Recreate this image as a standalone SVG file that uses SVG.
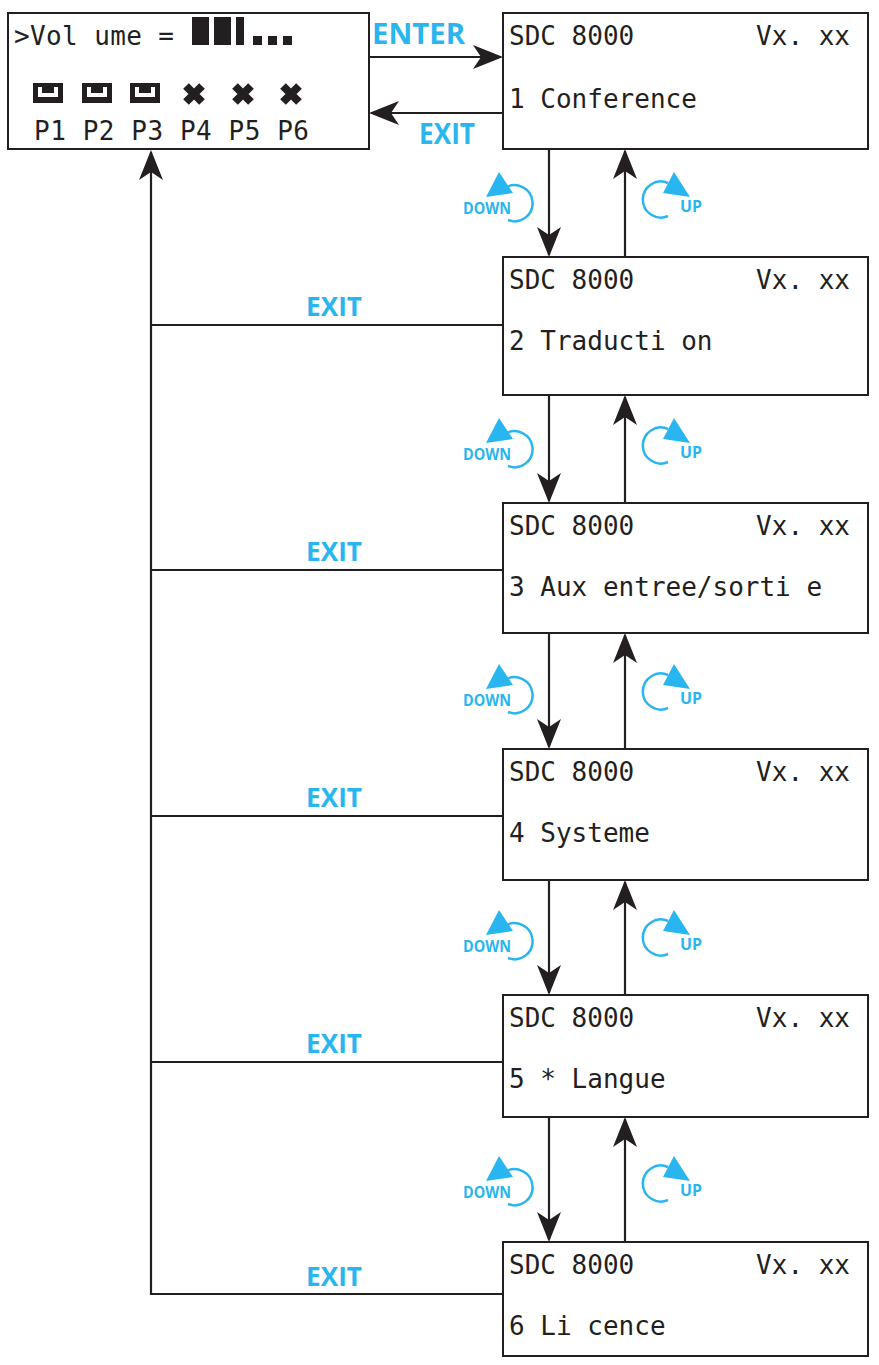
<svg xmlns="http://www.w3.org/2000/svg" width="879" height="1365" viewBox="0 0 879 1365">
<style>
.box{fill:#fff;stroke:#231f20;stroke-width:2}
.lcd{font-family:"DejaVu Sans Mono",monospace;font-size:26px;fill:#231f20}
.ln{stroke:#231f20;stroke-width:2.2;fill:none}
.bl{font-family:"Open Sans","DejaVu Sans",sans-serif;font-weight:bold;fill:#29b6f0}
.ic{stroke:#29b6f0;stroke-width:2.5;fill:none}
</style>
<defs>
<marker id="ah" viewBox="0 0 30 24" refX="28" refY="12" markerWidth="30" markerHeight="24" markerUnits="userSpaceOnUse" orient="auto"><path d="M0,0 L30,12 L0,24 L8,12 Z" fill="#231f20"/></marker>
<g id="down"><path class="ic" d="M505,188 A18,18 0 1 1 508,220"/><path d="M486,197 L499,172 L513,193 Z" fill="#29b6f0"/><text class="bl" x="463" y="214" font-size="16" textLength="48" lengthAdjust="spacingAndGlyphs">DOWN</text></g>
<g id="up"><path class="ic" d="M668,183 A18,18 0 1 0 668,216"/><path d="M674,172 L690,197 L663,193 Z" fill="#29b6f0"/><text class="bl" x="680" y="212" font-size="16" textLength="22" lengthAdjust="spacingAndGlyphs">UP</text></g>
</defs>
<g id="connectors">
<line class="ln" x1="369" y1="57" x2="501" y2="57" marker-end="url(#ah)"/>
<line class="ln" x1="503" y1="113" x2="371" y2="113" marker-end="url(#ah)"/>
<text class="bl" x="372" y="44" font-size="28" textLength="93" lengthAdjust="spacingAndGlyphs">ENTER</text>
<text class="bl" x="419" y="144" font-size="28" textLength="56" lengthAdjust="spacingAndGlyphs">EXIT</text>
<polyline class="ln" points="503,1294 151,1294 151,152" marker-end="url(#ah)"/>
<g id="exits">
<line class="ln" x1="151" y1="325" x2="503" y2="325"/>
<line class="ln" x1="151" y1="570" x2="503" y2="570"/>
<line class="ln" x1="151" y1="816" x2="503" y2="816"/>
<line class="ln" x1="151" y1="1062" x2="503" y2="1062"/>
<text class="bl" x="306" y="316" font-size="26" textLength="56" lengthAdjust="spacingAndGlyphs">EXIT</text>
<text class="bl" x="306" y="561" font-size="26" textLength="56" lengthAdjust="spacingAndGlyphs">EXIT</text>
<text class="bl" x="306" y="807" font-size="26" textLength="56" lengthAdjust="spacingAndGlyphs">EXIT</text>
<text class="bl" x="306" y="1053" font-size="26" textLength="56" lengthAdjust="spacingAndGlyphs">EXIT</text>
<text class="bl" x="306" y="1286" font-size="26" textLength="56" lengthAdjust="spacingAndGlyphs">EXIT</text>
</g>
<g id="updown">
<line class="ln" x1="549" y1="149" x2="549" y2="255" marker-end="url(#ah)"/><line class="ln" x1="625" y1="257" x2="625" y2="151" marker-end="url(#ah)"/>
<line class="ln" x1="549" y1="395" x2="549" y2="501" marker-end="url(#ah)"/><line class="ln" x1="625" y1="503" x2="625" y2="397" marker-end="url(#ah)"/>
<line class="ln" x1="549" y1="633" x2="549" y2="747" marker-end="url(#ah)"/><line class="ln" x1="625" y1="749" x2="625" y2="635" marker-end="url(#ah)"/>
<line class="ln" x1="549" y1="880" x2="549" y2="993" marker-end="url(#ah)"/><line class="ln" x1="625" y1="995" x2="625" y2="882" marker-end="url(#ah)"/>
<line class="ln" x1="549" y1="1117" x2="549" y2="1240" marker-end="url(#ah)"/><line class="ln" x1="625" y1="1242" x2="625" y2="1119" marker-end="url(#ah)"/>
<use href="#down"/><use href="#up"/>
<use href="#down" y="246"/><use href="#up" y="246"/>
<use href="#down" y="492"/><use href="#up" y="492"/>
<use href="#down" y="738"/><use href="#up" y="738"/>
<use href="#down" y="984"/><use href="#up" y="984"/>
</g>
</g>
<g id="volume">
<rect class="box" x="8" y="13" width="361" height="136"/>
<text class="lcd" x="14" y="45" textLength="160">&gt;Vol ume =</text>
<rect x="192" y="17" width="17" height="28" fill="#231f20"/><rect x="214" y="17" width="17" height="28" fill="#231f20"/><rect x="236" y="17" width="8" height="28" fill="#231f20"/>
<rect x="253" y="36" width="9" height="9" fill="#231f20"/><rect x="268" y="36" width="9" height="9" fill="#231f20"/><rect x="283" y="36" width="9" height="9" fill="#231f20"/>
<g fill="#231f20">
<path d="M33,83h30v20h-30z M38,87v10h20v-10h-4v6h-12v-6z" fill-rule="evenodd"/>
<path d="M82,83h30v20h-30z M87,87v10h20v-10h-4v6h-12v-6z" fill-rule="evenodd"/>
<path d="M130,83h30v20h-30z M135,87v10h20v-10h-4v6h-12v-6z" fill-rule="evenodd"/>
</g>
<g stroke="#231f20" stroke-width="8">
<path d="M186,86l16,16M202,86l-16,16"/><path d="M235,86l16,16M251,86l-16,16"/><path d="M283,86l16,16M299,86l-16,16"/>
</g>
<text class="lcd" x="34" y="140" textLength="275">P1 P2 P3 P4 P5 P6</text>
</g>
<g id="m1"><rect class="box" x="503" y="13" width="365" height="136"/><text class="lcd" x="509" y="45">SDC 8000</text><text class="lcd" x="850" y="45" text-anchor="end">Vx. xx</text><text class="lcd" x="509" y="108">1 Conference</text></g>
<g id="m2"><rect class="box" x="503" y="257" width="365" height="138"/><text class="lcd" x="509" y="289">SDC 8000</text><text class="lcd" x="850" y="289" text-anchor="end">Vx. xx</text><text class="lcd" x="509" y="350">2 Traducti on</text></g>
<g id="m3"><rect class="box" x="503" y="503" width="365" height="130"/><text class="lcd" x="509" y="535">SDC 8000</text><text class="lcd" x="850" y="535" text-anchor="end">Vx. xx</text><text class="lcd" x="509" y="596">3 Aux entree/sorti e</text></g>
<g id="m4"><rect class="box" x="503" y="749" width="365" height="131"/><text class="lcd" x="509" y="781">SDC 8000</text><text class="lcd" x="850" y="781" text-anchor="end">Vx. xx</text><text class="lcd" x="509" y="842">4 Systeme</text></g>
<g id="m5"><rect class="box" x="503" y="995" width="365" height="122"/><text class="lcd" x="509" y="1027">SDC 8000</text><text class="lcd" x="850" y="1027" text-anchor="end">Vx. xx</text><text class="lcd" x="509" y="1088">5 * Langue</text></g>
<g id="m6"><rect class="box" x="503" y="1242" width="365" height="114"/><text class="lcd" x="509" y="1274">SDC 8000</text><text class="lcd" x="850" y="1274" text-anchor="end">Vx. xx</text><text class="lcd" x="509" y="1335">6 Li cence</text></g>
</svg>
